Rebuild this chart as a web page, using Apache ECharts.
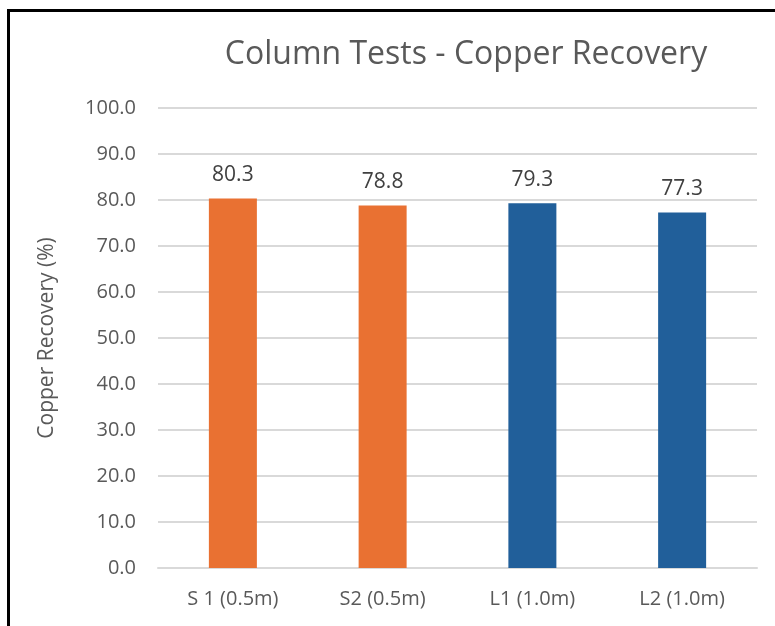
<!DOCTYPE html>
<html>
<head>
<meta charset="utf-8">
<script src="https://cdn.jsdelivr.net/npm/echarts@6/dist/echarts.min.js"></script>
<style>
  html, body { margin: 0; padding: 0; background: #fff; }
  #chart { width: 775px; height: 626px; }
</style>
</head>
<body>
<div id="chart"></div>
<script>
var categories = ['S 1 (0.5m)', 'S2 (0.5m)', 'L1 (1.0m)', 'L2 (1.0m)'];
var recovery = [80.3, 78.8, 79.3, 77.3];
var barColors = ['#E97132', '#E97132', '#215F9A', '#215F9A'];

var font = 'Open Sans';
var myChart = echarts.init(document.getElementById('chart'));

var option = {
    backgroundColor: '#fff',
    animation: false,
    title: {
        text: 'Column Tests - Copper Recovery',
        left: 461,
        textAlign: 'center',
        top: 34,
        textStyle: {
            color: '#595959',
            fontFamily: font,
            fontWeight: 'normal',
            fontSize: 32
        }
    },
    graphic: [
        { type: 'rect', shape: { x: 7, y: 9, width: 3, height: 626 }, style: { fill: '#000' } },
        { type: 'rect', shape: { x: 7, y: 9, width: 775, height: 3 }, style: { fill: '#000' } }
    ],
    grid: { left: 158, right: 18, top: 108, bottom: 58 },
    xAxis: {
        type: 'category',
        data: categories,
        axisLine: { lineStyle: { color: '#d9d9d9', width: 2 } },
        axisTick: { show: false },
        axisLabel: { color: '#595959', fontFamily: font, fontSize: 20, margin: 21 }
    },
    yAxis: {
        type: 'value',
        min: 0,
        max: 100,
        interval: 10,
        name: 'Copper Recovery (%)',
        nameLocation: 'middle',
        nameRotate: 90,
        nameGap: 100,
        nameTextStyle: { color: '#595959', fontFamily: font, fontSize: 21 },
        axisLine: { show: false },
        axisTick: { show: false },
        splitLine: { lineStyle: { color: '#d9d9d9', width: 2 } },
        axisLabel: {
            color: '#595959', fontFamily: font, fontSize: 20, margin: 22,
            formatter: function (v) { return v.toFixed(1); }
        }
    },
    series: [{
        type: 'bar',
        barWidth: 48,
        data: recovery.map(function (v, i) {
            return { value: v, itemStyle: { color: barColors[i] } };
        }),
        label: {
            show: true,
            position: 'top',
            distance: 13,
            color: '#404040',
            fontFamily: font,
            fontSize: 21,
            formatter: function (p) { return p.value.toFixed(1); }
        }
    }]
};
myChart.setOption(option);
</script>
</body>
</html>
